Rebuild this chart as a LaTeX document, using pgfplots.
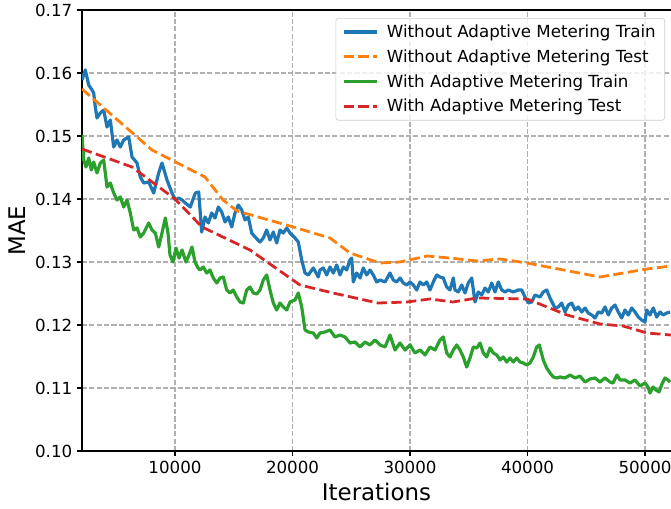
\documentclass[border=0pt]{standalone}
\usepackage{fontspec}
\setmainfont{DejaVu Sans}
\usepackage{pgfplots}
\pgfplotsset{compat=1.18}
\usetikzlibrary{calc}
\definecolor{mplblue}{HTML}{1F77B4}
\definecolor{mplorange}{HTML}{FF7F0E}
\definecolor{mplgreen}{HTML}{2CA02C}
\definecolor{mplred}{HTML}{D62728}
\definecolor{gridgray}{HTML}{B0B0B0}

% test curves (sparse evaluation points)
\pgfplotstableread{
x y
2085 0.15746
8042 0.14778
12553 0.14349
14084 0.13984
15276 0.13810
19786 0.13571
23190 0.13381
24892 0.13143
27445 0.12984
29147 0.13000
31445 0.13095
33402 0.13063
35700 0.13016
37657 0.13048
39955 0.12984
46167 0.12762
50167 0.12889
52209 0.12937
}\woTest

\pgfplotstableread{
x y
2085 0.14794
6340 0.14508
10000 0.14000
12297 0.13556
16382 0.13190
20637 0.12635
23445 0.12508
27275 0.12349
29743 0.12365
31700 0.12413
33657 0.12365
35700 0.12429
39955 0.12413
43359 0.12159
46167 0.12016
48124 0.11984
50167 0.11873
52209 0.11841
}\wTest

\pgfplotstableread{
x y
2085 0.15889
2366 0.16048
2655 0.15810
2936 0.15730
3081 0.15683
3217 0.15460
3362 0.15286
3643 0.15365
3932 0.15413
4213 0.15143
4494 0.15254
4783 0.14825
5064 0.14937
5345 0.14825
5634 0.14937
6059 0.14984
6340 0.14667
6766 0.14571
7047 0.14349
7336 0.14254
7761 0.14270
8187 0.14095
8612 0.14413
8893 0.14571
9319 0.14302
9744 0.14095
10025 0.13984
10314 0.14016
10595 0.13984
10876 0.13937
11302 0.13873
11727 0.14095
12016 0.14111
12272 0.13476
12553 0.13714
12833 0.13619
13123 0.13778
13404 0.13698
13684 0.13873
13974 0.13794
14255 0.13635
14535 0.13714
14825 0.13556
15106 0.13778
15386 0.13905
15676 0.13825
15957 0.13667
16237 0.13714
16527 0.13460
16808 0.13397
17233 0.13317
17514 0.13381
17803 0.13508
18084 0.13349
18365 0.13476
18654 0.13302
18935 0.13508
19216 0.13460
19505 0.13540
19786 0.13460
20212 0.13381
20492 0.13317
20782 0.13032
21063 0.12825
21343 0.12794
21769 0.12905
22194 0.12762
22339 0.12873
22620 0.12905
22909 0.12794
23190 0.12921
23471 0.12825
23760 0.12952
24041 0.12794
24322 0.12921
24611 0.12873
24892 0.13032
25037 0.13063
25173 0.12683
25462 0.12825
25743 0.12746
26024 0.12905
26313 0.12794
26594 0.12873
26875 0.12794
27164 0.12683
27445 0.12714
27871 0.12683
28296 0.12825
28577 0.12714
28866 0.12683
29147 0.12746
29428 0.12667
29717 0.12635
29998 0.12683
30279 0.12635
30568 0.12556
30849 0.12683
31130 0.12635
31419 0.12683
31700 0.12556
31981 0.12683
32270 0.12794
32551 0.12762
32832 0.12746
33121 0.12603
33402 0.12556
33683 0.12746
33828 0.12556
34108 0.12524
34398 0.12635
34679 0.12508
34959 0.12667
35249 0.12746
35530 0.12365
35810 0.12524
36100 0.12476
36381 0.12587
36661 0.12524
36951 0.12667
37232 0.12524
37512 0.12683
37802 0.12556
38083 0.12524
38363 0.12556
38789 0.12524
39214 0.12556
39504 0.12556
39785 0.12444
40065 0.12349
40355 0.12365
40636 0.12476
41061 0.12444
41342 0.12524
41631 0.12556
41912 0.12429
42338 0.12270
42618 0.12286
42908 0.12349
43189 0.12206
43469 0.12317
43759 0.12349
44040 0.12238
44320 0.12286
44610 0.12206
44891 0.12270
45171 0.12190
45461 0.12159
45742 0.12111
46022 0.12206
46312 0.12190
46593 0.12286
46873 0.12159
47163 0.12270
47444 0.12317
47724 0.12206
48014 0.12111
48295 0.12238
48575 0.12159
48865 0.12270
49146 0.12206
49426 0.12127
49716 0.12079
49997 0.12048
50141 0.12238
50422 0.12159
50703 0.12270
50992 0.12127
51273 0.12206
51554 0.12159
51843 0.12190
52124 0.12206
}\woTrain

\pgfplotstableread{
x y
2085 0.15016
2230 0.14619
2426 0.14508
2655 0.14651
2877 0.14460
3081 0.14587
3362 0.14413
3643 0.14571
3932 0.14619
4213 0.14190
4494 0.14254
4783 0.14095
5064 0.13984
5345 0.14032
5634 0.13873
5915 0.13984
6196 0.13778
6485 0.13508
6766 0.13540
7047 0.13397
7336 0.13460
7761 0.13619
8042 0.13508
8323 0.13460
8612 0.13238
8893 0.13460
9174 0.13698
9404 0.13460
9574 0.13111
9829 0.13000
10085 0.13222
10340 0.13063
10595 0.13190
10936 0.13000
11191 0.13111
11446 0.13238
11702 0.13000
11957 0.12905
12127 0.12873
12408 0.12921
12697 0.12825
12978 0.12873
13259 0.12746
13548 0.12667
13829 0.12746
14110 0.12762
14399 0.12556
14680 0.12508
14961 0.12556
15250 0.12444
15531 0.12365
15812 0.12349
16101 0.12556
16382 0.12603
16663 0.12508
16952 0.12492
17233 0.12556
17514 0.12714
17803 0.12794
18084 0.12556
18365 0.12349
18654 0.12238
18935 0.12349
19216 0.12286
19505 0.12238
19786 0.12365
20212 0.12397
20492 0.12508
20782 0.12286
21063 0.11921
21343 0.11889
21769 0.11873
22058 0.11794
22339 0.11873
22765 0.11889
23190 0.11921
23616 0.11810
24041 0.11841
24467 0.11810
24892 0.11714
25318 0.11730
25743 0.11651
26169 0.11730
26594 0.11683
27020 0.11762
27445 0.11683
27871 0.11651
28296 0.11841
28722 0.11603
29147 0.11714
29573 0.11603
29998 0.11683
30424 0.11556
30849 0.11603
31275 0.11524
31700 0.11651
32126 0.11603
32551 0.11762
32832 0.11810
33121 0.11556
33402 0.11492
33683 0.11603
33972 0.11683
34253 0.11603
34534 0.11492
34823 0.11333
35104 0.11476
35385 0.11651
35674 0.11635
35955 0.11714
36236 0.11556
36525 0.11492
36806 0.11635
37087 0.11556
37376 0.11524
37657 0.11444
37938 0.11492
38227 0.11413
38508 0.11476
38789 0.11413
39078 0.11476
39359 0.11413
39640 0.11397
39929 0.11365
40210 0.11397
40491 0.11492
40780 0.11651
41001 0.11683
41342 0.11444
41631 0.11317
41912 0.11238
42193 0.11175
42482 0.11159
42763 0.11175
43189 0.11159
43614 0.11206
44040 0.11159
44465 0.11190
44891 0.11095
45316 0.11143
45742 0.11159
46167 0.11095
46593 0.11159
47018 0.11095
47273 0.11079
47614 0.11206
47869 0.11127
48295 0.11127
48720 0.11079
49146 0.11127
49571 0.11032
49997 0.11079
50252 0.11016
50422 0.10921
50677 0.11016
50933 0.10968
51188 0.10937
51443 0.11063
51699 0.11159
51954 0.11127
52124 0.11095
}\wTrain

\begin{document}
\begin{tikzpicture}
\begin{axis}[
  scale only axis,
  width=424.08pt, height=317.52pt,
  xmin=2085, xmax=52209, ymin=0.10, ymax=0.17,
  separate axis lines,
  axis x line*=box, axis y line*=left,
  axis line style={black, line width=0.8pt},
  xtick={10000,20000,30000,40000,50000},
  ytick={0.10,0.11,0.12,0.13,0.14,0.15,0.16,0.17},
  xtick pos=left, ytick pos=left,
  tick align=outside,
  major tick length=3.5pt,
  every tick/.style={black, line width=0.8pt},
  scaled x ticks=false, scaled y ticks=false,
  xticklabel style={/pgf/number format/1000 sep={}},
  yticklabel style={/pgf/number format/.cd, fixed, fixed zerofill, precision=2},
  tick label style={font=\fontsize{12}{14}\selectfont},
  /pgf/number format/assume math mode=true,
  grid=major,
  major grid style={color=gridgray, line width=0.8pt, dash pattern=on 3.7pt off 1.6pt},
  xlabel={Iterations}, ylabel={MAE},
  label style={font=\fontsize{16.5}{19}\selectfont},
  legend style={at={(1,1)}, anchor=north east, xshift=-4.3pt, yshift=-5.8pt,
    draw=black!20, fill=white, fill opacity=0.8, text opacity=1,
    rounded corners=2pt, font=\fontsize{12}{14}\selectfont,
    inner xsep=4.5pt, inner ysep=2.5pt, row sep=3.3pt, column sep=4pt},
  legend cell align=left,
  legend image code/.code={\draw[#1] (0pt,0pt) -- (24pt,0pt);},
  every axis plot/.append style={line width=2pt, line join=round},
]
\addplot[mplblue, line width=2.3pt] table {\woTrain};
\addlegendentry{Without Adaptive Metering Train}
\addplot[mplorange, dash pattern=on 7.4pt off 3.2pt] table {\woTest};
\addlegendentry{Without Adaptive Metering Test}
\addplot[mplgreen, line width=2.3pt] table {\wTrain};
\addlegendentry{With Adaptive Metering Train}
\addplot[mplred, dash pattern=on 7.4pt off 3.2pt] table {\wTest};
\addlegendentry{With Adaptive Metering Test}
\coordinate (sw) at (rel axis cs:0,0);
\coordinate (ne) at (rel axis cs:1,1);
\end{axis}
\pgfresetboundingbox
\useasboundingbox ($(sw)+(-59.04pt,-41.04pt)$) rectangle ($(ne)+(0pt,7.2pt)$);
\end{tikzpicture}
\end{document}
